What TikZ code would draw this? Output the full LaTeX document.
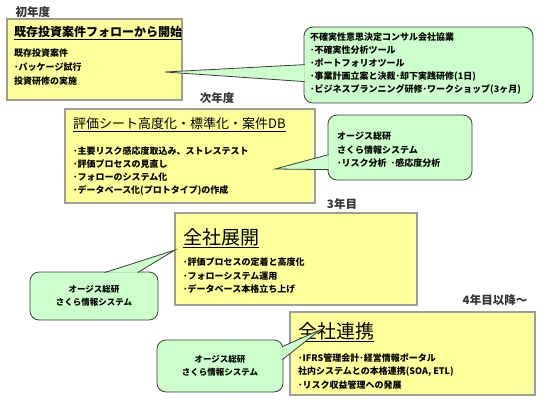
\documentclass[tikz,border=0pt]{standalone}
\usepackage{fontspec}
\newfontfamily\jp{Noto Sans CJK JP}
\usepackage{tikz}
\usetikzlibrary{calc}

\definecolor{stageyellow}{HTML}{FFFF99}
\definecolor{stagegray}{HTML}{9C9C9C}
\definecolor{memogreen}{HTML}{CCFFCC}
\definecolor{memoedge}{HTML}{3C3C3C}

\begin{document}
\begin{tikzpicture}[x=1pt, y=-1pt,
    stage/.style={draw=stagegray, line width=2.5pt, fill=stageyellow, inner sep=0pt},
    memo/.style={draw=memoedge, line width=0.8pt, fill=memogreen, rounded corners=9pt, inner sep=0pt},
    tail/.style={draw=memoedge, line width=0.8pt, fill=memogreen},
    yearlbl/.style={inner sep=0pt, text=black!80, font=\jp\bfseries\fontsize{11.5}{13}\selectfont},
    title/.style={anchor=west, inner sep=0pt},
    body/.style={anchor=north west, align=left, inner sep=0pt}]
    \useasboundingbox (0,0) rectangle (550,400);

    % Year 1
    \node[yearlbl] (y1) at (33,12) {初年度};
    \node[stage, minimum width=175, minimum height=81] (s1) at (94.5,59.5) {};
    \node[title, font=\jp\bfseries\fontsize{12}{14}\selectfont] (t1) at (14,33) {\underline{既存投資案件フォローから開始}};
    \node[body, font=\jp\bfseries\fontsize{9}{14}\selectfont] (b1) at (14,49) {既存投資案件\\･パッケージ試行\\投資研修の実施};

    % Year 2
    \node[yearlbl] (y2) at (217,98) {次年度};
    \node[stage, minimum width=250, minimum height=94] (s2) at (190,156) {};
    \node[title, font=\jp\fontsize{13}{15}\selectfont] (t2) at (73,125) {\underline{評価シート高度化・標準化・案件DB}};
    \node[body, font=\jp\bfseries\fontsize{9}{13.3}\selectfont] (b2) at (73,146) {･主要リスク感応度取込み、ストレステスト\\･評価プロセスの見直し\\･フォローのシステム化\\･データベース化(プロトタイプ)の作成};

    % Year 3
    \node[yearlbl] (y3) at (342,204) {3年目};
    \node[stage, minimum width=242, minimum height=92] (s3) at (296,259) {};
    \node[title, font=\jp\fontsize{19}{21}\selectfont] (t3) at (183,238) {\underline{全社展開}};
    \node[body, font=\jp\bfseries\fontsize{9}{13.5}\selectfont] (b3) at (183,258) {･評価プロセスの定着と高度化\\･フォローシステム運用\\･データベース本格立ち上げ};

    % Year 4 and later
    \node[yearlbl] (y4) at (495,300) {4年目以降〜};
    \node[stage, minimum width=245, minimum height=83] (s4) at (412.5,353.5) {};
    \node[title, font=\jp\fontsize{19}{21}\selectfont] (t4) at (298,332) {\underline{全社連携}};
    \node[body, font=\jp\bfseries\fontsize{9}{13.5}\selectfont] (b4) at (298,353) {･IFRS管理会計･経営情報ポータル\\社内システムとの本格連携(SOA, ETL)\\･リスク収益管理への発展};

    % Memos
    \node[memo, minimum width=229, minimum height=76] (c1) at (418.5,65) {};
    \node[body, font=\jp\bfseries\fontsize{9}{12.8}\selectfont] (m1) at (310,33) {不確実性意思決定コンサル会社協業\\･不確実性分析ツール\\･ポートフォリオツール\\･事業計画立案と決裁･却下実践研修(1日)\\･ビジネスプランニング研修･ワークショップ(3ヶ月)};
    \coordinate (p1) at (165,72);
    \draw[tail] ($(c1.north west)+(1,38)$) -- (p1) -- ($(c1.north west)+(1,55)$);

    \node[memo, minimum width=144, minimum height=65] (c2) at (400,147.5) {};
    \node[body, font=\jp\bfseries\fontsize{9}{13.5}\selectfont] (m2) at (337,132) {オージス総研\\さくら情報システム\\･リスク分析\ \ ･感応度分析};
    \coordinate (p2) at (275,169);
    \draw[tail] ($(c2.north west)+(1,40)$) -- (p2) -- ($(c2.north west)+(1,55)$);

    \node[memo, align=center, minimum width=128, minimum height=48,
          font=\jp\bfseries\fontsize{8.5}{13}\selectfont] (c3) at (94,296) {オージス総研\\さくら情報システム};
    \coordinate (p3) at (175,250);
    \draw[tail] ($(c3.north west)+(75,1)$) -- (p3) -- ($(c3.north west)+(108,1)$);

    \node[memo, align=center, minimum width=126, minimum height=52,
          font=\jp\bfseries\fontsize{8.5}{13}\selectfont] (c4) at (220,366) {オージス総研\\さくら情報システム};
    \coordinate (p4) at (320,330);
    \draw[tail] ($(c4.north east)+(-1,7)$) -- (p4) -- ($(c4.north east)+(-1,20)$);
\end{tikzpicture}
\end{document}
